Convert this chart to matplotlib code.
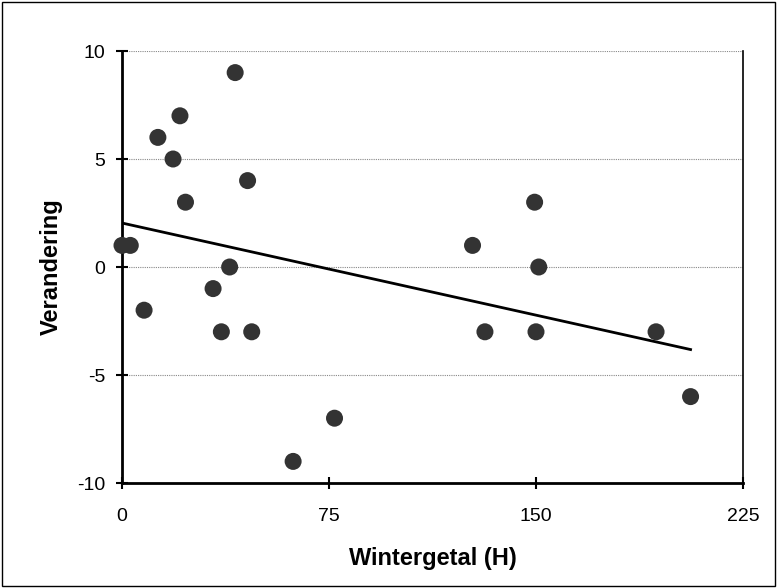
import numpy as np
import matplotlib
matplotlib.use("Agg")
import matplotlib.pyplot as plt

plt.rcParams["font.family"] = ["Liberation Sans", "DejaVu Sans"]
plt.rcParams["axes.unicode_minus"] = False

# Wintergetal (H) vs Verandering
wintergetal = [0, 3, 8, 13, 18.5, 21, 23, 33, 36, 39, 41, 45.5, 47, 62, 77,
               127, 131.5, 149.5, 150, 151, 193.5, 206]
verandering = [1, 1, -2, 6, 5, 7, 3, -1, -3, 0, 9, 4, -3, -9, -7,
               1, -3, 3, -3, 0, -3, -6]

x_ticks = [0, 75, 150, 225]
y_ticks = [-10, -5, 0, 5, 10]


def main() -> None:
    x = np.asarray(wintergetal, dtype=float)
    y = np.asarray(verandering, dtype=float)

    fig = plt.figure(figsize=(7.77, 5.88), dpi=100)
    ax = fig.add_axes([122 / 777, 1 - 483 / 588, (743 - 122) / 777, (483 - 51) / 588])

    for gy in (-5, 0, 5, 10):
        ax.axhline(gy, color="#888888", linewidth=0.8, linestyle=(0, (1, 1)), zorder=1)

    ax.scatter(x, y, s=150, color="#333333", edgecolors="none", zorder=3, clip_on=False)

    # least-squares trend line over the data range
    slope, intercept = np.polyfit(x, y, 1)
    xs = np.array([x.min(), x.max()])
    ax.plot(xs, intercept + slope * xs, color="black", linewidth=2.0, zorder=2)

    ax.set_xlim(0, 225)
    ax.set_ylim(-10, 10)
    ax.set_xticks(x_ticks)
    ax.set_yticks(y_ticks)
    ax.tick_params(direction="inout", length=8, width=1.5, labelsize=14)
    ax.tick_params(axis="x", pad=14)
    ax.tick_params(axis="y", pad=8)
    for side in ("left", "bottom"):
        ax.spines[side].set_linewidth(2.0)
    ax.spines["right"].set_linewidth(1.2)
    ax.spines["top"].set_visible(False)

    ax.set_xlabel("Wintergetal (H)", fontsize=17, fontweight="bold", labelpad=16)
    ax.set_ylabel("Verandering", fontsize=17, fontweight="bold", labelpad=10)

    border = plt.Rectangle((0.003, 0.003), 0.994, 0.994, transform=fig.transFigure,
                           fill=False, edgecolor="black", linewidth=1.0)
    fig.patches.append(border)

    fig.savefig("out.png", dpi=100)
    plt.close(fig)


if __name__ == "__main__":
    main()
